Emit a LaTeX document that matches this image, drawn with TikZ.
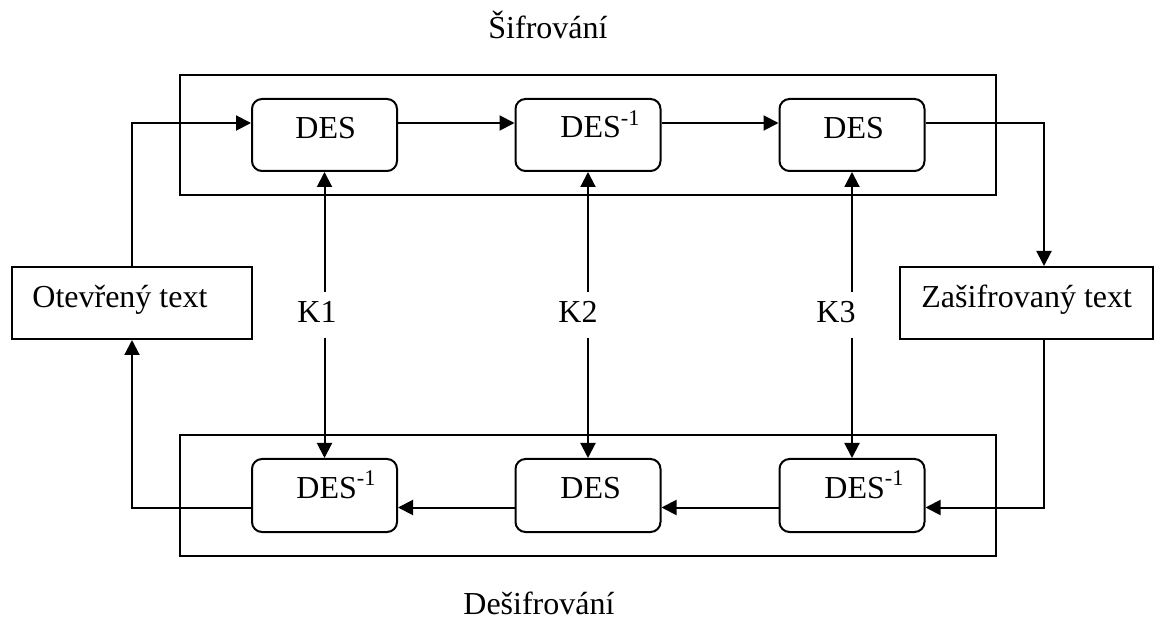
\documentclass[tikz,border=0pt]{standalone}
\usepackage{fontspec}
\setmainfont{Liberation Serif}
\usetikzlibrary{arrows.meta}
\begin{document}
\begin{tikzpicture}[x=0.5pt,y=-0.5pt,
  every node/.style={font=\fontsize{16}{19}\selectfont},
  outerbox/.style={draw,line width=1pt,minimum width=408pt,minimum height=60pt,inner sep=0pt},
  desbox/.style={draw,line width=1pt,rounded corners=5pt,minimum width=72.5pt,minimum height=36pt,inner sep=0pt},
  txtbox/.style={draw,line width=1pt,minimum height=36pt,inner sep=0pt},
  lbl/.style={anchor=base west,inner sep=0pt},
  klbl/.style={anchor=base west,fill=white,inner ysep=0pt,inner xsep=2pt,text height=15.5pt,text depth=7.5pt},
  arr/.style={line width=1pt,-{Triangle[length=7.5pt,width=7.5pt]}},
  darr/.style={line width=1pt,{Triangle[length=7.5pt,width=7.5pt]}-{Triangle[length=7.5pt,width=7.5pt]}}
]
\useasboundingbox (0,0) rectangle (1155,619);
% outer frames
\node[outerbox] (enc) at (588,135) {};
\node[outerbox,minimum height=60.5pt] (dec) at (588,495.5) {};
% DES boxes
\node[desbox] (d1) at (324.5,135) {};
\node[desbox] (d2) at (588,135) {};
\node[desbox] (d3) at (852,135) {};
\node[desbox,minimum height=36.5pt] (e1) at (324.5,495.5) {};
\node[desbox,minimum height=36.5pt] (e2) at (588,495.5) {};
\node[desbox,minimum height=36.5pt] (e3) at (852,495.5) {};
% text boxes
\node[txtbox,minimum width=120pt] (pt) at (132,303) {};
\node[txtbox,minimum width=126.5pt] (ct) at (1026.5,303) {};
% texts
\node[lbl] (tsif) at (488,39) {Šifrování};
\node[lbl] (tdes) at (463,614) {Dešifrování};
\node[lbl] (tpt) at (32,308) {Otevřený text};
\node[lbl] (tct) at (921,308) {Zašifrovaný text};
\node[lbl] (td1) at (295,139) {DES};
\node[lbl] (td2) at (560,138) {DES\textsuperscript{-1}};
\node[lbl] (td3) at (823,139) {DES};
\node[lbl] (te1) at (296,498) {DES\textsuperscript{-1}};
\node[lbl] (te2) at (560,498) {DES};
\node[lbl] (te3) at (824,498) {DES\textsuperscript{-1}};
% connectors (encryption)
\draw[arr] (pt.north) |- ([yshift=6pt]d1.west);
\draw[arr] ([yshift=6pt]d1.east) -- ([yshift=6pt]d2.west);
\draw[arr] ([yshift=6pt]d2.east) -- ([yshift=6pt]d3.west);
\coordinate (ctin) at ([xshift=8.75pt]ct.north);
\coordinate (ctout) at ([xshift=8.75pt]ct.south);
\draw[arr] ([yshift=6pt]d3.east) -| (ctin);
% connectors (decryption)
\draw[arr] (ctout) |- ([yshift=-6pt]e3.east);
\draw[arr] ([yshift=-6pt]e3.west) -- ([yshift=-6pt]e2.east);
\draw[arr] ([yshift=-6pt]e2.west) -- ([yshift=-6pt]e1.east);
\draw[arr] ([yshift=-6pt]e1.west) -| (pt.south);
% keys
\draw[darr] (d1.south) -- (e1.north);
\draw[darr] (d2.south) -- (e2.north);
\draw[darr] (d3.south) -- (e3.north);
\node[klbl] (k1) at (293,323) {K1};
\node[klbl] (k2) at (554,323) {K2};
\node[klbl] (k3) at (812,323) {K3};
\end{tikzpicture}
\end{document}
